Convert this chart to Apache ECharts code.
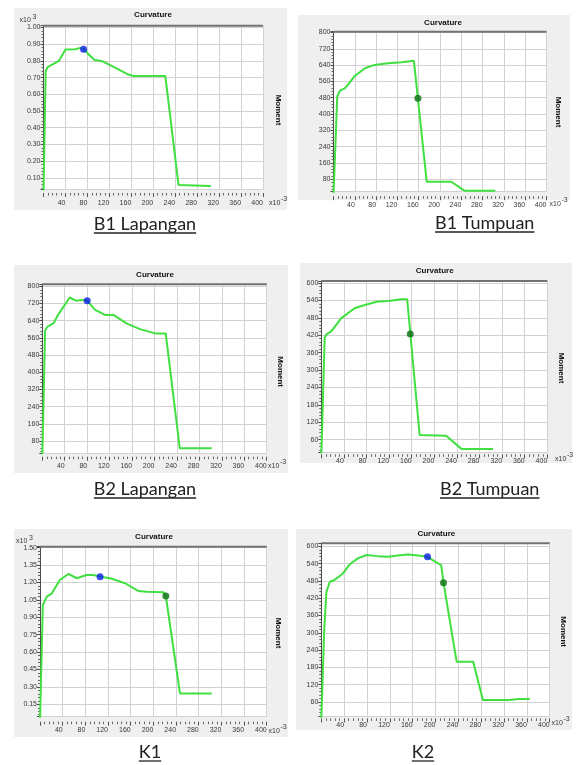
<!DOCTYPE html>
<html>
<head>
<meta charset="utf-8">
<script src="https://cdn.jsdelivr.net/npm/echarts@6/dist/echarts.min.js"></script>
<style>
  html, body { margin: 0; padding: 0; background: #fff; }
  #chart { width: 576px; height: 765px; }
</style>
</head>
<body>
<div id="chart"></div>
<script>
// Moment–curvature curves: [curvature (x10^-3), moment]
const b1LapanganCurve = [[0,0],[4,0.74],[8,0.765],[20,0.785],[28,0.80],[40,0.868],[58,0.87],[67,0.878],[74,0.87],[82,0.84],[93,0.806],[106,0.80],[133,0.756],[152,0.722],[164,0.71],[222,0.71],[246,0.057],[305,0.051]];
const b1LapanganBlue = [[73,0.87]];
const b1LapanganGreen = [];

const b1TumpuanCurve = [[0,0],[7,485],[12,515],[21,526],[27,543],[40,587],[59,625],[77,641],[102,649],[128,654],[151,661],[175,68],[221,68],[246,24],[304,24]];
const b1TumpuanBlue = [];
const b1TumpuanGreen = [[158.5,478]];

const b2LapanganCurve = [[0,0],[5,595],[9,612],[14,620],[20,628],[28,667],[49,748],[60,733],[70,736],[80,733],[94,690],[112,667],[127,667],[150,628],[174,601],[201,581],[220,581],[245,47],[302,47]];
const b2LapanganBlue = [[80,733]];
const b2LapanganGreen = [];

const b2TumpuanCurve = [[0,0],[6,411],[9,423],[18,434],[35,478],[59,513],[77,524],[100,536],[118,538],[142,544],[152,544],[174,76],[221,73],[248,28],[304,28]];
const b2TumpuanBlue = [];
const b2TumpuanGreen = [[157.5,424]];

const k1Curve = [[0,0],[5,1.006],[12,1.078],[21,1.106],[35,1.221],[50,1.273],[65,1.236],[82,1.264],[94,1.264],[106,1.25],[124,1.236],[150,1.193],[174,1.126],[188,1.12],[218,1.115],[222,1.083],[247,0.244],[303,0.244]];
const k1Blue = [[106,1.25]];
const k1Green = [[222,1.083]];

const k2Curve = [[0,0],[5,304],[9,443],[15,477],[23,483],[38,506],[50,538],[64,558],[79,570],[99,566],[117,564],[134,568],[152,572],[169,568],[186,564],[199,547],[210,535],[214,474],[237,200],[266,200],[283,67],[330,67],[345,70],[365,70]];
const k2Blue = [[186,564]];
const k2Green = [[214,474]];

// Tick labels
const curvatureTicks = [40, 80, 120, 160, 200, 240, 280, 320, 360, 400];
const b1LapanganTicks = ['0.10','0.20','0.30','0.40','0.50','0.60','0.70','0.80','0.90','1.00'];
const b1TumpuanTicks = ['80','160','240','320','400','480','560','640','720','800'];
const b2LapanganTicks = ['80','160','240','320','400','480','560','640','720','800'];
const b2TumpuanTicks = ['60','120','180','240','300','360','420','480','540','600'];
const k1Ticks = ['0.15','0.30','0.45','0.60','0.75','0.90','1.05','1.20','1.35','1.50'];
const k2Ticks = ['60','120','180','240','300','360','420','480','540','600'];

const panelTitle = 'Curvature';
const sideTitle = 'Moment';

// Panel layout (pixels) and axis extents
const panels = [
  { caption: 'B1 Lapangan', curve: b1LapanganCurve, blue: b1LapanganBlue, green: b1LapanganGreen, ticks: b1LapanganTicks,
    yMin: 0.03, yMax: 1.011, box: [14, 8, 273, 202], plot: [43.5, 25.7, 219.5, 163.8],
    titleAt: [153, 15], momentAt: [278, 110], captionAt: [145, 224], xOffset: 3.5, xMargin: 7,
    expAt: [269, 203.5], yExpAt: [19.5, 20] },
  { caption: 'B1 Tumpuan', curve: b1TumpuanCurve, blue: b1TumpuanBlue, green: b1TumpuanGreen, ticks: b1TumpuanTicks,
    yMin: 19, yMax: 804, box: [298, 15, 272, 185], plot: [333.5, 31.7, 213, 160],
    titleAt: [443, 22.7], momentAt: [558, 112], captionAt: [484.7, 223], xOffset: 4.5, xMargin: 5,
    expAt: [549.5, 204], yExpAt: null },
  { caption: 'B2 Lapangan', curve: b2LapanganCurve, blue: b2LapanganBlue, green: b2LapanganGreen, ticks: b2LapanganTicks,
    yMin: 23.4, yMax: 809.4, box: [14, 265, 274, 208], plot: [42.3, 284.3, 224.4, 169],
    titleAt: [155, 274.3], momentAt: [280, 371.7], captionAt: [145, 489], xOffset: 3.4, xMargin: 6,
    expAt: [268, 466.5], yExpAt: null },
  { caption: 'B2 Tumpuan', curve: b2TumpuanCurve, blue: b2TumpuanBlue, green: b2TumpuanGreen, ticks: b2TumpuanTicks,
    yMin: 16.2, yMax: 606.9, box: [300, 263, 272, 200], plot: [321.3, 281, 226, 171.3],
    titleAt: [434.7, 271], momentAt: [561, 368], captionAt: [489.7, 489], xOffset: 2, xMargin: 3,
    expAt: [555, 459], yExpAt: null },
  { caption: 'K1', curve: k1Curve, blue: k1Blue, green: k1Green, ticks: k1Ticks,
    yMin: 0.043, yMax: 1.508, box: [14, 529, 274, 208], plot: [40, 546.7, 226.7, 170],
    titleAt: [154, 536.7], momentAt: [278, 633], captionAt: [150, 752], xOffset: 5, xMargin: 5.3,
    expAt: [268.5, 731.5], yExpAt: [16, 541] },
  { caption: 'K2', curve: k2Curve, blue: k2Blue, green: k2Green, ticks: k2Ticks,
    yMin: 9, yMax: 610.5, box: [296, 529, 276, 201], plot: [321.3, 543.3, 228.4, 173.4],
    titleAt: [436.3, 533.3], momentAt: [563, 631.7], captionAt: [423, 752], xOffset: 1.7, xMargin: 3,
    expAt: [551.5, 723], yExpAt: null }
];

const FONT = '"Liberation Sans", Arial, sans-serif';
const CAPTION_FONT = '18px Lato, "Open Sans", sans-serif';
const LINE_GREEN = '#3fe03f';
const DOT_BLUE = '#0a1ee6';
const DOT_GREEN = '#0b6e14';

const measureCtx = document.createElement('canvas').getContext('2d');
function textWidth(text, font) {
  measureCtx.font = font;
  return measureCtx.measureText(text).width;
}

const grids = [], xAxes = [], yAxes = [], series = [], graphics = [];

panels.forEach((p, i) => {
  const [gx, gy, gw, gh] = p.plot;
  const step = Number(p.ticks[1]) - Number(p.ticks[0]);
  grids.push({ left: gx, top: gy, width: gw, height: gh, show: false, containLabel: false, outerBoundsMode: 'none' });

  xAxes.push({
    gridIndex: i, type: 'value', min: 0, max: 400, interval: 40, offset: p.xOffset,
    axisLine: { show: false },
    axisTick: { show: true, length: 4, lineStyle: { color: '#555', width: 1 } },
    minorTick: { show: true, splitNumber: 5, length: 2.5, lineStyle: { color: '#666', width: 1 } },
    splitLine: { show: true, lineStyle: { color: '#d2d2d2', width: 1 } },
    minorSplitLine: { show: false },
    axisLabel: {
      show: true, fontSize: 7, fontFamily: FONT, color: '#383838', align: 'right', margin: p.xMargin,
      formatter: v => (curvatureTicks.indexOf(Math.round(v)) >= 0 && Math.abs(v - Math.round(v)) < 1e-6 ? String(Math.round(v)) : '')
    }
  });

  yAxes.push({
    gridIndex: i, type: 'value', min: p.yMin, max: p.yMax, minInterval: step, maxInterval: step,
    axisLine: { show: true, lineStyle: { color: '#4a4a4a', width: 1 } },
    axisTick: { show: true, length: 3, lineStyle: { color: '#4a4a4a', width: 1 } },
    minorTick: { show: true, splitNumber: 5, length: 2, lineStyle: { color: '#666', width: 1 } },
    splitLine: { show: true, lineStyle: { color: '#d2d2d2', width: 1 } },
    minorSplitLine: { show: false },
    axisLabel: {
      show: true, fontSize: 7, fontFamily: FONT, color: '#383838', margin: 3, padding: [2, 0, 0, 0],
      formatter: v => {
        const t = p.ticks.find(s => Math.abs(Number(s) - v) < step * 1e-3);
        return t || '';
      }
    }
  });

  series.push({
    type: 'line', xAxisIndex: i, yAxisIndex: i, data: p.curve, symbol: 'none', clip: true,
    lineStyle: { color: LINE_GREEN, width: 2 }, z: 3
  });
  if (p.blue.length) series.push({
    type: 'scatter', xAxisIndex: i, yAxisIndex: i, data: p.blue, symbolSize: 7,
    itemStyle: { color: DOT_BLUE }, z: 4
  });
  if (p.green.length) series.push({
    type: 'scatter', xAxisIndex: i, yAxisIndex: i, data: p.green, symbolSize: 7,
    itemStyle: { color: DOT_GREEN }, z: 4
  });

  // panel frame
  const [bx, by, bw, bh] = p.box;
  graphics.push({ type: 'rect', shape: { x: bx, y: by, width: bw, height: bh }, style: { fill: '#efefef' }, z: -10, silent: true });
  graphics.push({ type: 'rect', shape: { x: gx, y: gy, width: gw, height: gh }, style: { fill: '#ffffff' }, z: -9, silent: true });
  graphics.push({ type: 'line', shape: { x1: gx, y1: gy, x2: gx + gw, y2: gy }, style: { stroke: '#727272', lineWidth: 2 }, z: 20, silent: true });

  graphics.push({ type: 'text', x: p.titleAt[0], y: p.titleAt[1], z: 20,
    style: { text: panelTitle, font: 'bold 8px ' + FONT, fill: '#111', align: 'center', verticalAlign: 'middle' } });
  graphics.push({ type: 'text', x: p.momentAt[0], y: p.momentAt[1], rotation: -Math.PI / 2, z: 20,
    style: { text: sideTitle, font: 'bold 8px ' + FONT, fill: '#111', align: 'center', verticalAlign: 'middle' } });

  // curvature exponent after the last tick label
  graphics.push({ type: 'text', x: p.expAt[0], y: p.expAt[1], z: 20,
    style: { text: 'x10', font: '7px ' + FONT, fill: '#383838', align: 'left', verticalAlign: 'middle' } });
  graphics.push({ type: 'text', x: p.expAt[0] + 12, y: p.expAt[1] - 4, z: 20,
    style: { text: '-3', font: '7px ' + FONT, fill: '#383838', align: 'left', verticalAlign: 'middle' } });

  if (p.yExpAt) {
    graphics.push({ type: 'text', x: p.yExpAt[0], y: p.yExpAt[1], z: 20,
      style: { text: 'x10', font: '7px ' + FONT, fill: '#383838', align: 'left', verticalAlign: 'middle' } });
    graphics.push({ type: 'text', x: p.yExpAt[0] + 13, y: p.yExpAt[1] - 2.5, z: 20,
      style: { text: '3', font: '7px ' + FONT, fill: '#383838', align: 'left', verticalAlign: 'middle' } });
  }

  // underlined caption
  const w = textWidth(p.caption, CAPTION_FONT);
  graphics.push({ type: 'text', x: p.captionAt[0], y: p.captionAt[1], z: 20,
    style: { text: p.caption, font: CAPTION_FONT, fill: '#222', align: 'center', verticalAlign: 'middle' } });
  graphics.push({ type: 'line', z: 20, silent: true,
    shape: { x1: p.captionAt[0] - w / 2, y1: p.captionAt[1] + 9, x2: p.captionAt[0] + w / 2, y2: p.captionAt[1] + 9 },
    style: { stroke: '#222', lineWidth: 1.3 } });
});

const chart = echarts.init(document.getElementById('chart'), null, { renderer: 'canvas' });
chart.setOption({
  backgroundColor: '#ffffff',
  animation: false,
  grid: grids,
  xAxis: xAxes,
  yAxis: yAxes,
  series: series,
  graphic: { elements: graphics }
});
</script>
</body>
</html>
